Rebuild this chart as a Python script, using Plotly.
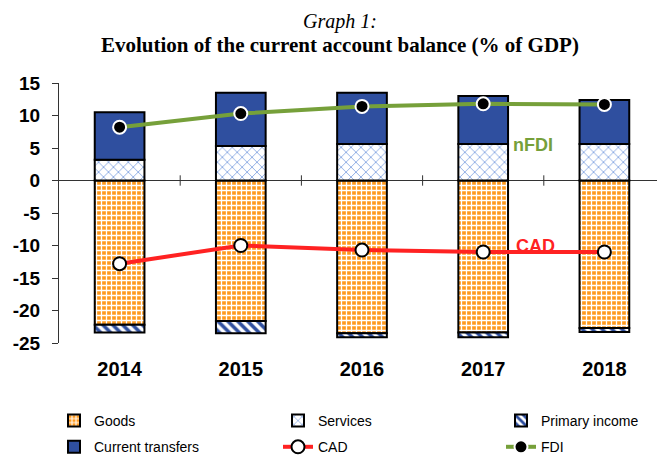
import plotly.graph_objects as go

years = ["2014", "2015", "2016", "2017", "2018"]
goods = [-22.2, -21.6, -23.5, -23.4, -22.7]
services = [3.2, 5.3, 5.6, 5.6, 5.6]
primary_income = [-1.2, -1.9, -0.6, -0.7, -0.6]
current_transfers = [7.3, 8.2, 7.9, 7.4, 6.8]
cad = [-12.8, -10.0, -10.7, -11.0, -11.0]
fdi = [8.2, 10.3, 11.4, 11.8, 11.7]
y_ticks = [15, 10, 5, 0, -5, -10, -15, -20, -25]

ORANGE = "#FF9A1E"
BLUE = "#2F4F9F"
LBLUE = "#3B6FD0"
RED = "#FF2222"
GREEN = "#76A03A"
outline = dict(color="black", width=2)
bw = 0.41

# the page body adds an 8px offset, so the figure is sized/positioned to compensate
OFF = 8
W, H = 665 - OFF, 457 - OFF
L, R, T, B = 59 - OFF, 0, 83 - OFF, 457 - 343
PW, PH = W - L - R, H - T - B


def px_x(px):
    return (px - OFF - L) / PW


def px_y(py):
    return (H - B - (py - OFF)) / PH


fig = go.Figure()
fig.add_trace(go.Bar(x=years, y=goods, name="Goods", width=bw, legend="legend", legendgroup="g1",
                     marker=dict(color=ORANGE, line=outline,
                                 pattern=dict(shape="+", fgcolor="white", bgcolor=ORANGE,
                                              size=5, solidity=0.45, fillmode="replace"))))
fig.add_trace(go.Bar(x=years, y=services, name="Services", width=bw, legend="legend2", legendgroup="g2",
                     marker=dict(color="white", line=outline,
                                 pattern=dict(shape="x", fgcolor=LBLUE, bgcolor="white",
                                              size=7, solidity=0.15, fillmode="replace"))))
fig.add_trace(go.Bar(x=years, y=primary_income, name="Primary income", width=bw, legend="legend3",
                     legendgroup="g3",
                     marker=dict(color="white", line=outline,
                                 pattern=dict(shape="\\", fgcolor=BLUE, bgcolor="white",
                                              size=7, solidity=0.5, fillmode="replace"))))
fig.add_trace(go.Bar(x=years, y=current_transfers, name="Current transfers", width=bw,
                     legend="legend", legendgroup="g4",
                     marker=dict(color=BLUE, line=outline)))
fig.add_trace(go.Scatter(x=years, y=cad, name="CAD", mode="lines+markers", legend="legend2",
                         legendgroup="g5",
                         line=dict(color=RED, width=4),
                         marker=dict(color="white", size=13, line=dict(color="black", width=2))))
fig.add_trace(go.Scatter(x=years, y=fdi, name="FDI", mode="lines+markers", legend="legend3",
                         legendgroup="g6",
                         line=dict(color=GREEN, width=4),
                         marker=dict(color="black", size=13, line=dict(color="white", width=2))))

# category-boundary tick marks on the zero line
for i in range(len(years) - 1):
    fig.add_shape(type="line", xref="x", yref="y", x0=i + 0.5, x1=i + 0.5, y0=-0.8, y1=0.8,
                  line=dict(color="#333333", width=1))

fig.add_annotation(x=3.41, y=5.4, xref="x", yref="y", text="<b>nFDI</b>", showarrow=False,
                   font=dict(family="Arial, Liberation Sans", size=18, color=GREEN))
fig.add_annotation(x=3.43, y=-10.1, xref="x", yref="y", text="<b>CAD</b>", showarrow=False,
                   font=dict(family="Arial, Liberation Sans", size=18, color=RED))

# title lines
fig.add_annotation(x=px_x(340), y=px_y(OFF + 0.5), xref="paper", yref="paper",
                   text="<i>Graph 1:</i>",
                   showarrow=False, xanchor="center", yanchor="top",
                   font=dict(family="Times New Roman, Liberation Serif", size=20, color="black"))
fig.add_annotation(x=px_x(340), y=px_y(45), xref="paper", yref="paper",
                   text="<b>Evolution of the current account balance (% of GDP)</b>",
                   showarrow=False, xanchor="center", yanchor="middle",
                   font=dict(family="Times New Roman, Liberation Serif", size=21, color="black"))

legend_common = dict(orientation="v", yref="paper", xref="paper", y=px_y(405), yanchor="top",
                     xanchor="left", font=dict(size=14, family="Arial, Liberation Sans"),
                     traceorder="grouped", tracegroupgap=5, bgcolor="rgba(0,0,0,0)")

fig.update_layout(
    width=W, height=H,
    margin=dict(l=L, r=R, t=T, b=B, autoexpand=False),
    paper_bgcolor="white", plot_bgcolor="white",
    barmode="relative",
    font=dict(family="Arial, Liberation Sans", color="black"),
    xaxis=dict(type="category", showline=False, ticks="", showgrid=False,
               tickfont=dict(size=20, family="Arial, Liberation Sans", weight="bold"),
               ticklabelstandoff=12, range=[-0.5, 4.5], tickangle=0),
    yaxis=dict(range=[-25, 15], tickvals=y_ticks, ticktext=[str(v) for v in y_ticks],
               showline=True, linecolor="#333333", linewidth=1, ticks="outside", ticklen=6,
               tickcolor="#333333", showgrid=False, zeroline=True, zerolinecolor="#333333",
               zerolinewidth=1, ticklabelstandoff=8,
               tickfont=dict(size=19, family="Arial, Liberation Sans", weight="bold")),
    legend=dict(legend_common, x=px_x(54)),
    legend2=dict(legend_common, x=px_x(278)),
    legend3=dict(legend_common, x=px_x(501)),
    showlegend=True,
)

fig.write_html("out.html")
